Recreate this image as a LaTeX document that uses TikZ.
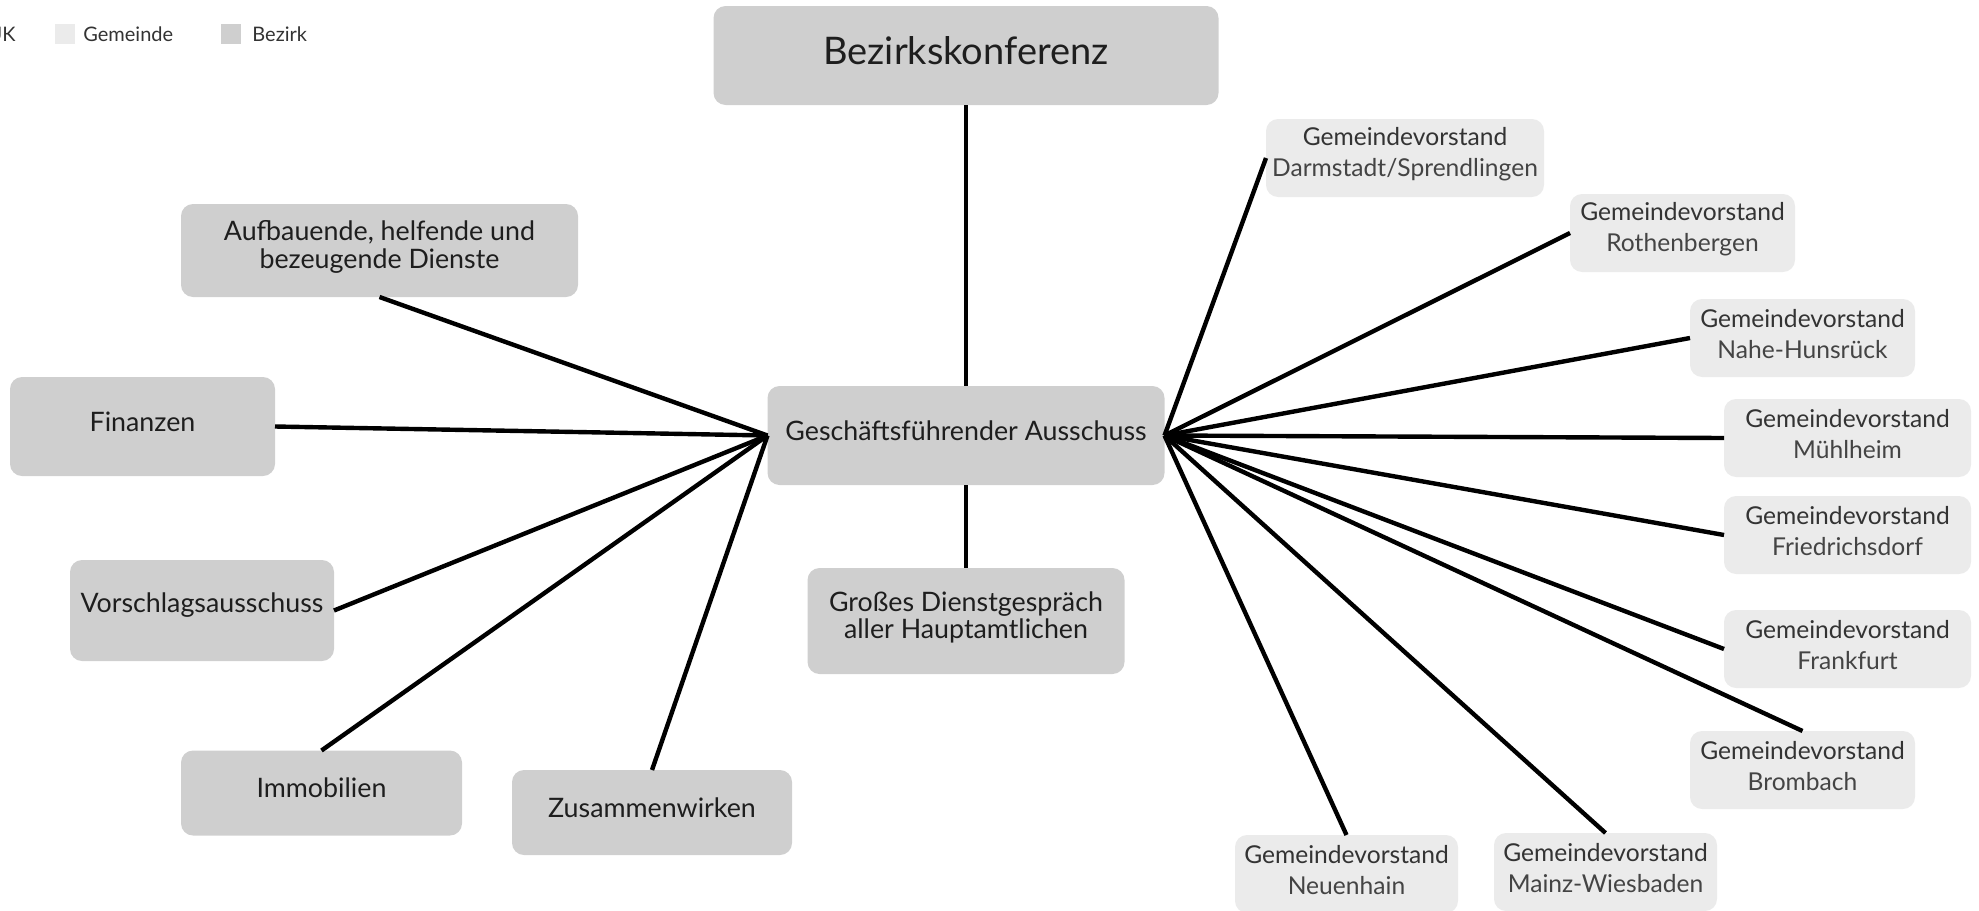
\documentclass[tikz,border=0pt]{standalone}
\usepackage{fontspec}
\setmainfont{Lato}
\definecolor{bezgray}{HTML}{CFCFCF}
\definecolor{gemgray}{HTML}{EBEBEB}
\definecolor{txtdark}{HTML}{1E1E1E}
\definecolor{txtgem}{HTML}{333333}
\definecolor{txtgemlight}{HTML}{444444}
\begin{document}
\begin{tikzpicture}[x=0.5pt,y=-0.5pt,
  box/.style={rounded corners=6pt, inner sep=0pt, outer sep=0pt},
  bez/.style={box, fill=bezgray},
  gem/.style={box, fill=gemgray, minimum height=39pt},
  btxt/.style={inner sep=0pt, yshift=2.5pt, align=center, text=txtdark, font=\fontsize{13.4}{14}\selectfont},
  btxttwo/.style={btxt, yshift=-0.6pt},
  gtxt/.style={inner sep=0pt, yshift=2pt, align=center, text=txtgem, font=\fontsize{12.3}{15.5}\selectfont},
  conn/.style={draw=black, line width=2.2pt},
  legsq/.style={inner sep=0pt, outer sep=0pt, minimum width=10pt, minimum height=10pt},
  legtxt/.style={inner sep=0pt, anchor=west, text=txtgem, font=\fontsize{10}{12}\selectfont}
]
\useasboundingbox (0,0) rectangle (1979,910);

% legend
\node[legtxt, anchor=east] (lguk) at (16,34) {UK};
\node[legsq, fill=gemgray] (lgsq1) at (65,34) {};
\node[legtxt] (lgt1) at (83,34) {Gemeinde};
\node[legsq, fill=bezgray] (lgsq2) at (231,34) {};
\node[legtxt] (lgt2) at (252,34) {Bezirk};

% Bezirk nodes
\node[bez, minimum width=252.5pt, minimum height=49.5pt,
  label={[btxt, font=\fontsize{19}{21}\selectfont]center:Bezirkskonferenz}] (bk) at (966,55.5) {};
\node[bez, minimum width=198.5pt, minimum height=49.5pt,
  label={[btxt]center:Geschäftsführender Ausschuss}] (ga) at (966,435.5) {};
\node[bez, minimum width=158.5pt, minimum height=53pt,
  label={[btxttwo, font=\fontsize{13.4}{13.6}\selectfont]center:Großes Dienstgespräch\\aller Hauptamtlichen}] (gd) at (966,621) {};
\node[bez, minimum width=198.5pt, minimum height=46.5pt,
  label={[btxttwo]center:Aufbauende, helfende und\\bezeugende Dienste}] (auf) at (379.5,250.5) {};
\node[bez, minimum width=132.5pt, minimum height=49.5pt,
  label={[btxt]center:Finanzen}] (fin) at (142.5,426.5) {};
\node[bez, minimum width=132pt, minimum height=50.5pt,
  label={[btxt]center:Vorschlagsausschuss}] (vor) at (202,610.5) {};
\node[bez, minimum width=140.5pt, minimum height=42.5pt,
  label={[btxt]center:Immobilien}] (imm) at (321.5,793) {};
\node[bez, minimum width=140pt, minimum height=42.5pt,
  label={[btxt]center:Zusammenwirken}] (zus) at (652,812.5) {};

% Gemeinde nodes
\newcommand{\gv}[1]{Gemeindevorstand\\{\color{txtgemlight}#1}}
\node[gem, minimum width=139pt, label={[gtxt]center:\gv{Darmstadt/Sprendlingen}}] (dar) at (1405,158) {};
\node[gem, minimum width=112.5pt, label={[gtxt]center:\gv{Rothenbergen}}] (rot) at (1682.5,233) {};
\node[gem, minimum width=112.5pt, label={[gtxt]center:\gv{Nahe-Hunsrück}}] (nah) at (1802.5,338) {};
\node[gem, minimum width=123.5pt, label={[gtxt]center:\gv{Mühlheim}}] (mue) at (1847.5,438) {};
\node[gem, minimum width=123.5pt, label={[gtxt]center:\gv{Friedrichsdorf}}] (fri) at (1847.5,535) {};
\node[gem, minimum width=123.5pt, label={[gtxt]center:\gv{Frankfurt}}] (fra) at (1847.5,649) {};
\node[gem, minimum width=112.5pt, label={[gtxt]center:\gv{Brombach}}] (bro) at (1802.5,770) {};
\node[gem, minimum width=111.5pt, label={[gtxt]center:\gv{Neuenhain}}] (neu) at (1346.5,874) {};
\node[gem, minimum width=111.5pt, label={[gtxt]center:\gv{Mainz-Wiesbaden}}] (mai) at (1605.5,872) {};

% connectors
\draw[conn] (bk.south) -- (ga.north);
\draw[conn] (ga.south) -- (gd.north);
\draw[conn] (ga.west) -- (auf.south);
\draw[conn] (ga.west) -- (fin.east);
\draw[conn] (ga.west) -- (vor.east);
\draw[conn] (ga.west) -- (imm.north);
\draw[conn] (ga.west) -- (zus.north);
\draw[conn] (ga.east) -- (dar.west);
\draw[conn] (ga.east) -- (rot.west);
\draw[conn] (ga.east) -- (nah.west);
\draw[conn] (ga.east) -- (mue.west);
\draw[conn] (ga.east) -- (fri.west);
\draw[conn] (ga.east) -- (fra.west);
\draw[conn] (ga.east) -- (bro.north);
\draw[conn] (ga.east) -- (neu.north);
\draw[conn] (ga.east) -- (mai.north);
\end{tikzpicture}
\end{document}
